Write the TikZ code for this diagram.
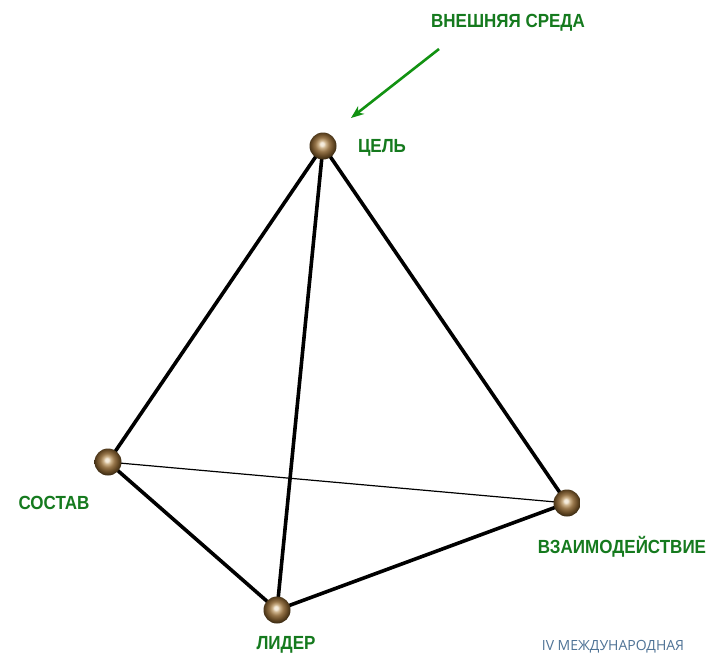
\documentclass[tikz,border=0pt]{standalone}
\usepackage{fontspec}
\setmainfont{Liberation Sans}
\newfontfamily\labfont[FakeStretch=0.895]{Liberation Sans}
\newfontfamily\wmfont{Open Sans}
\usetikzlibrary{arrows.meta}
\definecolor{lbl}{HTML}{157A1E}
\definecolor{arrowg}{HTML}{129212}
\definecolor{wm}{HTML}{4F7396}
\definecolor{b0}{HTML}{F5ECDD}
\definecolor{b1}{HTML}{CDB38C}
\definecolor{b2}{HTML}{96754A}
\definecolor{b3}{HTML}{664A26}
\definecolor{b4}{HTML}{2C200C}
\pgfdeclareradialshading{bronze}{\pgfpoint{-2bp}{4bp}}{%
  color(0bp)=(b0); color(3bp)=(b0); color(7bp)=(b1); color(13bp)=(b2); color(20bp)=(b3); color(28bp)=(b4); color(50bp)=(b4)}
\tikzset{
  ball/.style={circle,minimum size=27pt,inner sep=0pt,shading=bronze},
  edge thick/.style={line width=3.6pt,black},
  edge thin/.style={line width=1.2pt,black},
  lab/.style={font=\labfont\bfseries\fontsize{19}{20}\selectfont,text=lbl,inner sep=0pt,anchor=center},
  wmark/.style={font=\wmfont\fontsize{14}{17}\selectfont,text=wm,inner sep=0pt,anchor=center}
}
\begin{document}
\begin{tikzpicture}[x=1pt,y=-1pt]
\useasboundingbox (0,0) rectangle (707,656);
\fill[white] (0,0) rectangle (707,656);
\coordinate (top) at (323,146);
\coordinate (left) at (108,462);
\coordinate (right) at (567,503);
\coordinate (bottom) at (277,610);
\coordinate (arrowstart) at (439,49);
\coordinate (arrowend) at (351,118);
\draw[edge thick] (top) -- (left);
\draw[edge thick] (top) -- (right);
\draw[edge thick] (top) -- (bottom);
\draw[edge thick] (left) -- (bottom);
\draw[edge thick] (right) -- (bottom);
\draw[edge thin] (left) -- (right);
\node[ball] (ntop) at (top) {};
\node[ball] (nleft) at (left) {};
\node[ball] (nright) at (right) {};
\node[ball] (nbottom) at (bottom) {};
\draw[line width=2.6pt,arrowg,-{Stealth[length=13pt,width=10pt]}] (arrowstart) -- (arrowend);
\node[lab] (env) at (508,23) {ВНЕШНЯЯ СРЕДА};
\node[lab] (goal) at (382,148) {ЦЕЛЬ};
\node[lab] (comp) at (54,503) {СОСТАВ};
\node[lab] (inter) at (622,547) {ВЗАИМОДЕЙСТВИЕ};
\node[lab] (lead) at (286,645) {ЛИДЕР};
\node[wmark] (wm) at (613,647) {IV МЕЖДУНАРОДНАЯ};
\end{tikzpicture}
\end{document}
